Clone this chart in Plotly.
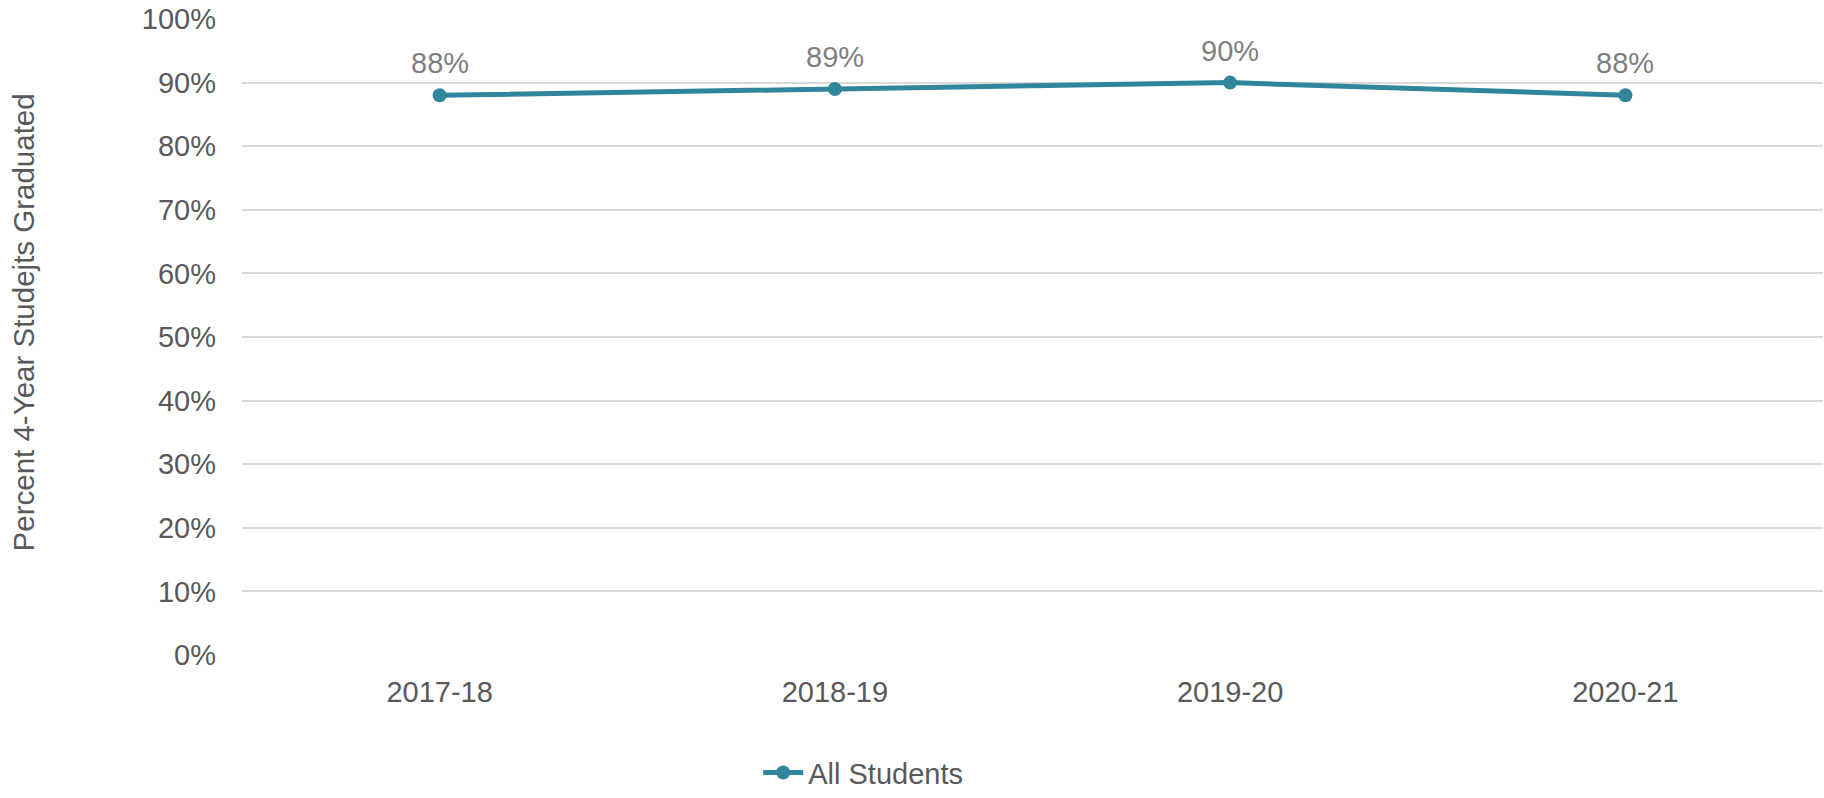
import plotly.graph_objects as go

years = ["2017-18", "2018-19", "2019-20", "2020-21"]
all_students = [88, 89, 90, 88]
y_ticks = [0, 10, 20, 30, 40, 50, 60, 70, 80, 90, 100]
y_tick_labels = [f"{v}%" for v in y_ticks]
series_name = "All Students"
y_title = "Percent 4-Year Studejts Graduated"

line_color = "#31859C"
font_family = "Liberation Sans, Arial, sans-serif"
fs = 29

fig = go.Figure()
fig.add_trace(go.Scatter(
    x=years, y=all_students, mode="lines+markers", name=series_name,
    line=dict(color=line_color, width=5),
    marker=dict(color=line_color, size=14),
))

for x, y in zip(years, all_students):
    fig.add_annotation(x=x, y=y, text=f"{y}%", showarrow=False,
                       yshift=32, font=dict(size=fs, color="#7F7F7F", family=font_family))

fig.add_annotation(xref="paper", yref="paper", x=-0.1385, y=0.523,
                   text=y_title, textangle=-90, showarrow=False,
                   xanchor="center", yanchor="middle",
                   font=dict(size=29.5, color="#595959", family=font_family))

fig.update_layout(
    width=1824, height=798,
    margin=dict(l=242, r=1, t=19, b=143, autoexpand=False),
    paper_bgcolor="white", plot_bgcolor="white",
    font=dict(family=font_family, size=fs, color="#595959"),
    showlegend=True,
    legend=dict(orientation="h", x=0.3265, xanchor="left", y=-0.185, yanchor="middle",
                font=dict(size=fs, color="#595959"), itemwidth=40),
)
fig.update_xaxes(range=[-0.5, len(years) - 0.5], showgrid=False, showline=False,
                 zeroline=False, ticks="", automargin=False,
                 ticklabelstandoff=17, tickfont=dict(size=fs, color="#595959"))
fig.update_yaxes(range=[0, 100], tickvals=y_ticks, ticktext=y_tick_labels,
                 showgrid=True, gridcolor="#D9D9D9", gridwidth=2,
                 zeroline=False, showline=False, ticks="", automargin=False,
                 ticklabeloverflow="allow",
                 ticklabelstandoff=25, tickfont=dict(size=fs, color="#595959"))

fig.write_html("out.html", config={"displayModeBar": False},
               post_script="document.body.style.margin='0';document.body.style.overflow='hidden';")
